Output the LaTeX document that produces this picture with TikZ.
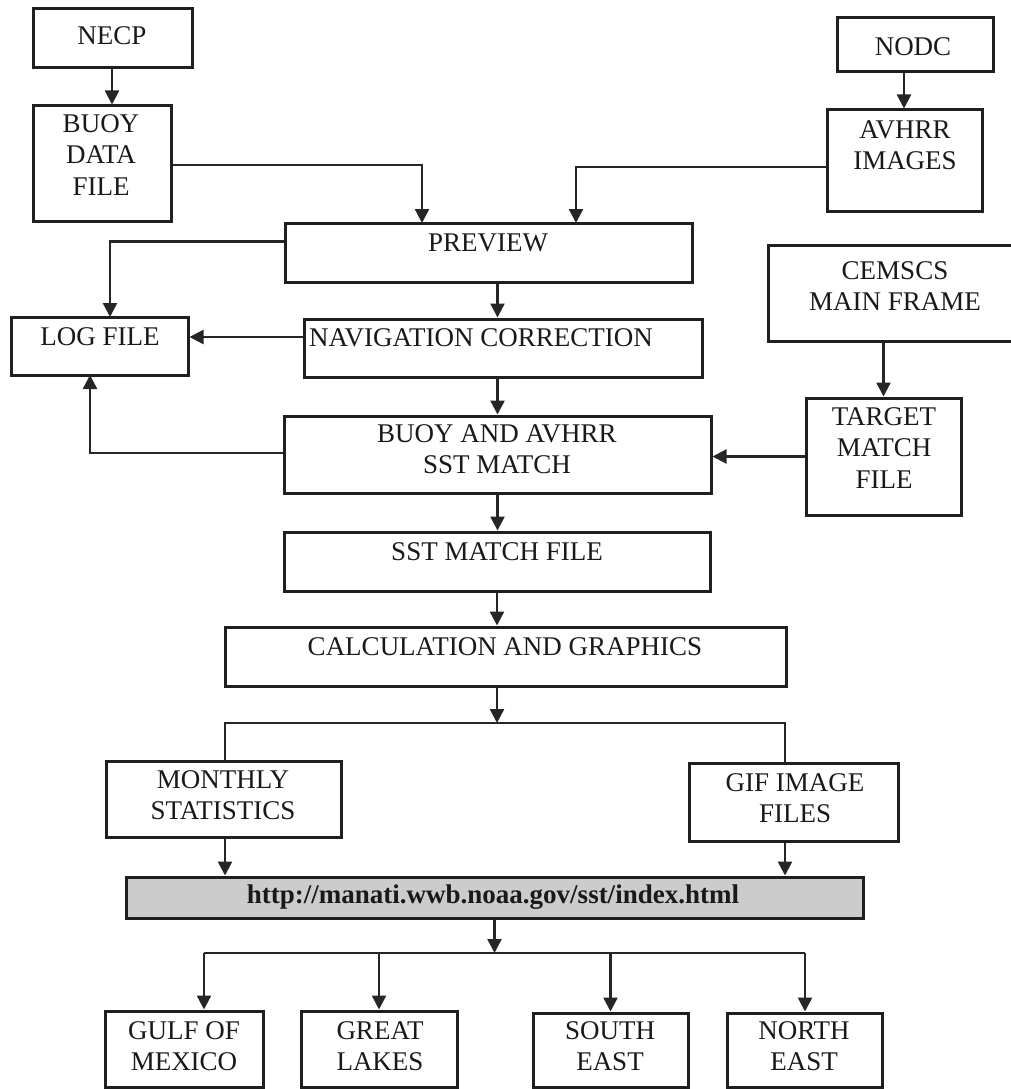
\documentclass[tikz,border=0pt]{standalone}
\usepackage{fontspec}
\setmainfont{Liberation Serif}
\usetikzlibrary{arrows.meta,fit}
\begin{document}
\begin{tikzpicture}[x=1pt,y=-1pt,
  box/.style={draw=black!88, line width=3pt, inner sep=0pt},
  txt/.style={align=center, text=black!90, font=\fontsize{27}{31.5}\selectfont, inner sep=0pt},
  arr/.style={draw=black!85, line width=2.4pt, -{Triangle[length=14pt,width=14pt]}},
  ln/.style={draw=black!85, line width=2.4pt}]
\useasboundingbox[fill=white] (0,0) rectangle (1010,1089);

% boxes
\node[box, fit={(33,9) (192,68)}] (necp) {};
\node[box, fit={(33,106) (171,221)}] (buoy) {};
\node[box, fit={(837,18) (993,72)}] (nodc) {};
\node[box, fit={(827,110) (982,211)}] (avhrr) {};
\node[box, fit={(285,223) (692,282)}] (preview) {};
\node[box, fit={(11,317) (188,375)}] (log) {};
\node[box, fit={(304,319) (702,377)}] (nav) {};
\node[box, fit={(284,416) (711,493)}] (bam) {};
\node[box, fit={(768,245) (1020,341)}] (cemscs) {};
\node[box, fit={(806,398) (961,515)}] (target) {};
\node[box, fit={(284,532) (710,591)}] (sst) {};
\node[box, fit={(225,627) (786,686)}] (calc) {};
\node[box, fit={(106,761) (341,837)}] (monthly) {};
\node[box, fit={(689,763) (898,841)}] (gif) {};
\node[box, fill=black!20, fit={(126,877) (863,918)}] (url) {};
\node[box, fit={(105,1011) (263,1087)}] (gulf) {};
\node[box, fit={(301,1011) (457,1087)}] (great) {};
\node[box, fit={(533,1013) (688,1087)}] (south) {};
\node[box, fit={(727,1013) (882,1087)}] (north) {};

% texts
\node[txt] (necpT) at (112,36) {NECP};
\node[txt] (buoyT) at (101,155) {BUOY\\DATA\\FILE};
\node[txt] (nodcT) at (913,47) {NODC};
\node[txt] (avhrrT) at (905,145) {AVHRR\\IMAGES};
\node[txt] (previewT) at (488,243) {PREVIEW};
\node[txt] (logT) at (100,337) {LOG FILE};
\node[txt] (navT) at (481,338) {NAVIGATION CORRECTION};
\node[txt] (bamT) at (497,449) {BUOY AND AVHRR\\SST MATCH};
\node[txt] (cemscsT) at (895,286) {CEMSCS\\MAIN FRAME};
\node[txt] (targetT) at (884,448) {TARGET\\MATCH\\FILE};
\node[txt] (sstT) at (497,552) {SST MATCH FILE};
\node[txt] (calcT) at (505,647) {CALCULATION AND GRAPHICS};
\node[txt] (monthlyT) at (223,795) {MONTHLY\\STATISTICS};
\node[txt] (gifT) at (795,798) {GIF IMAGE\\FILES};
\node[txt, font=\fontsize{27}{31.5}\selectfont\bfseries] (urlT) at (493,897) {http://manati.wwb.noaa.gov/sst/index.html};
\node[txt] (gulfT) at (184,1046) {GULF OF\\MEXICO};
\node[txt] (greatT) at (380,1046) {GREAT\\LAKES};
\node[txt] (southT) at (610,1046) {SOUTH\\EAST};
\node[txt] (northT) at (804,1046) {NORTH\\EAST};

% helper coordinates
\coordinate (xa) at (112,0);
\coordinate (xb) at (904,0);
\coordinate (pin1) at (422,223);
\coordinate (pin2) at (576,223);
\coordinate (login1) at (110,317);
\coordinate (login2) at (90,375);
\coordinate (sL) at (225,723);
\coordinate (sR) at (785,723);
\coordinate (bL) at (204,953);
\coordinate (bR) at (805,953);

% connectors
\draw[arr] (necp.south -| xa) -- (buoy.north -| xa);
\draw[arr] (nodc.south -| xb) -- (avhrr.north -| xb);
\draw[arr] ([yshift=-1.5pt]buoy.east) -| (pin1);
\draw[arr] ([yshift=-6.5pt]avhrr.west) -| (pin2);
\draw[arr] ([yshift=11pt]preview.west) -| (login1);
\draw[arr] (preview.south -| bam.north) -- (nav.north -| bam.north);
\draw[arr] ([yshift=11pt]nav.west) -- ([yshift=11pt]nav.west -| log.east);
\draw[arr] (nav.south -| bam.north) -- (bam.north);
\draw[arr] ([yshift=1.5pt]bam.west) -| (login2);
\draw[arr] (cemscs.south -| target.north) -- (target.north);
\draw[arr] (target.west) -- (target.west -| bam.east);
\draw[arr] (bam.south) -- (bam.south |- sst.north);
\draw[arr] (sst.south) -- (sst.south |- calc.north);
\draw[arr] (calc.south -| sst.south) -- (sst.south |- sL);
\draw[ln] (sL |- monthly.north) -- (sL) -- (sR) -- (sR |- gif.north);
\draw[arr] (sL |- monthly.south) -- (sL |- url.north);
\draw[arr] (sR |- gif.south) -- (sR |- url.north);
\draw[arr] (url.south) -- (url.south |- bL);
\draw[ln] (bL) -- (bR);
\draw[arr] (bL) -- (bL |- gulf.north);
\draw[arr] (great.north |- bL) -- (great.north);
\draw[arr] (south.north |- bL) -- (south.north);
\draw[arr] (bR) -- (bR |- north.north);
\end{tikzpicture}
\end{document}
